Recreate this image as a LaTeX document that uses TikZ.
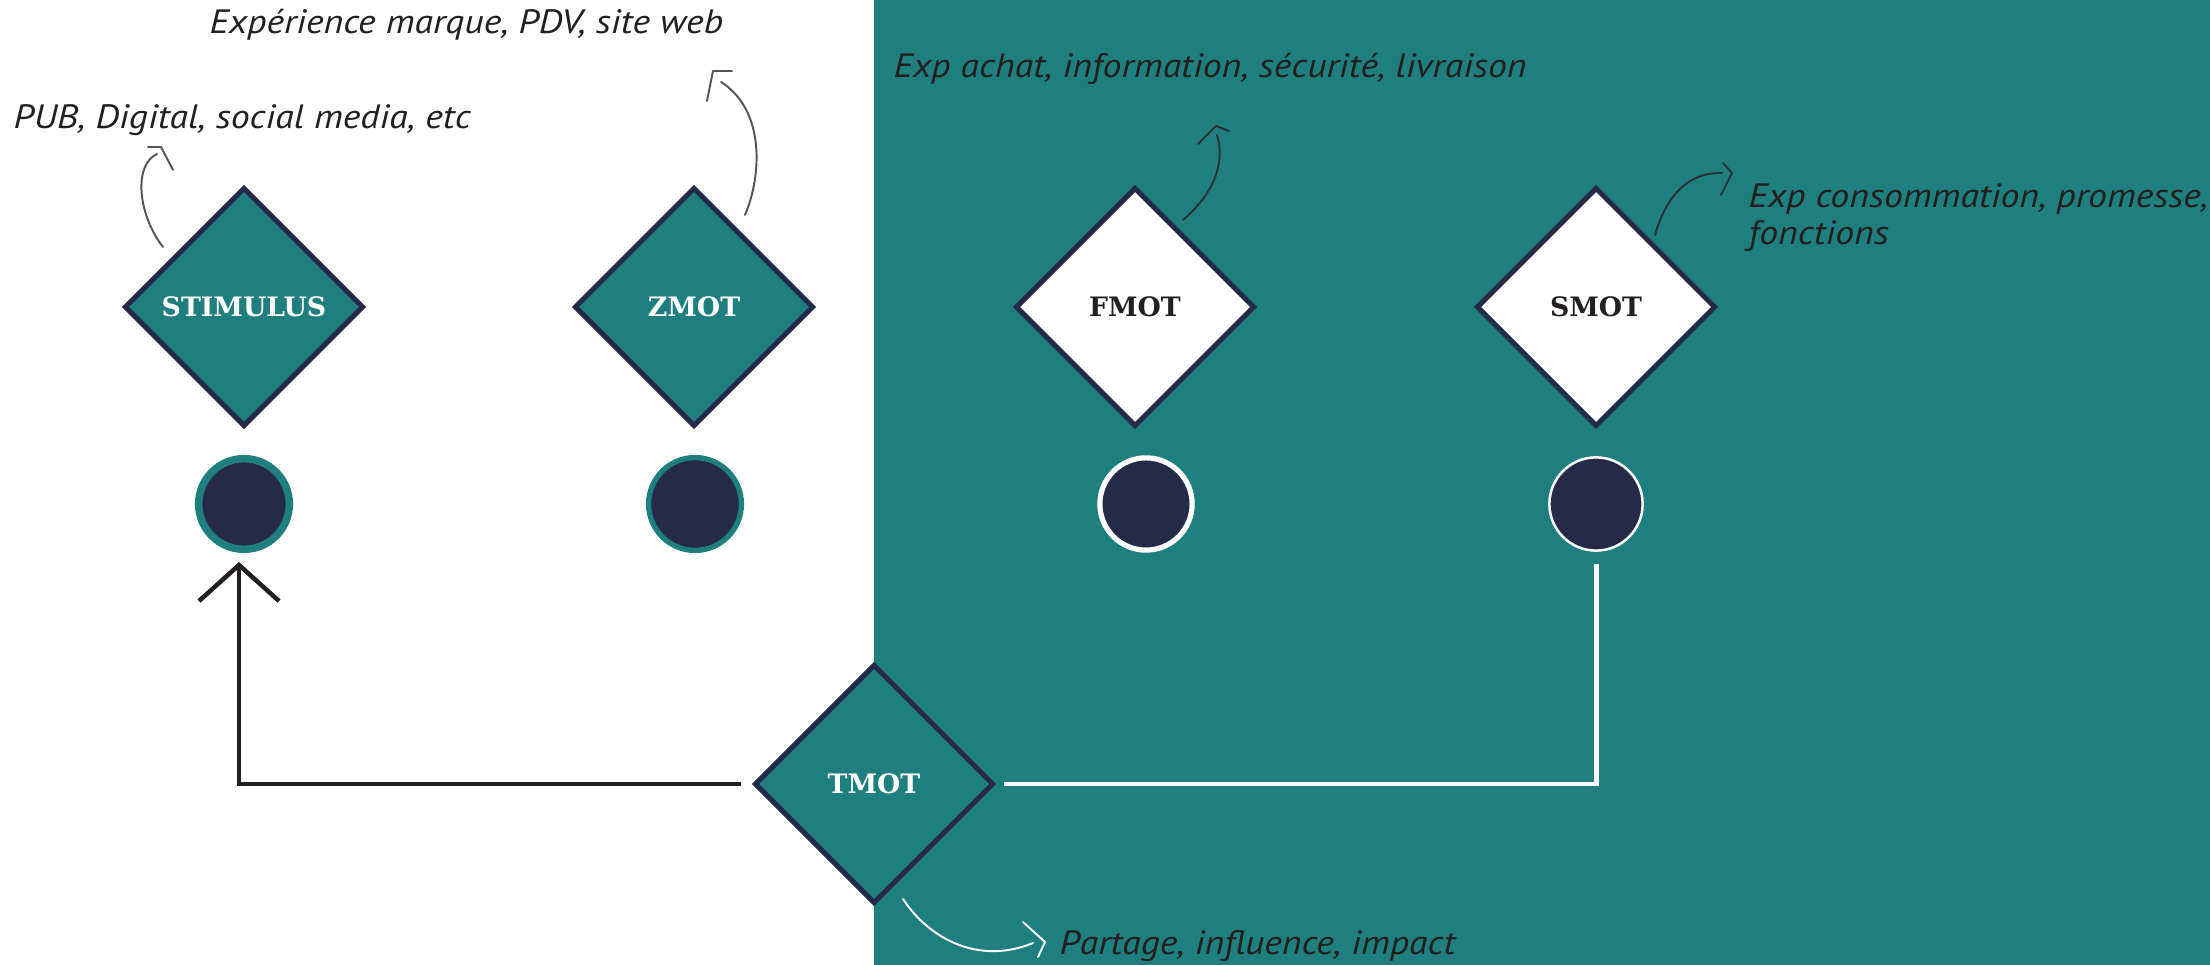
\documentclass[tikz,border=0pt]{standalone}
\usepackage{fontspec}
\usetikzlibrary{shapes.geometric,arrows.meta}
\newfontfamily\handfont[FakeStretch=1.12]{PT Sans}
\newfontfamily\tagfont{DejaVu Serif}
\definecolor{motteal}{HTML}{1E7F7E}
\definecolor{motnavy}{HTML}{252A48}
\definecolor{inkdark}{HTML}{231F20}
\definecolor{notegray}{HTML}{555555}
\definecolor{notedark}{HTML}{263436}
\begin{document}
\begin{tikzpicture}[x=0.01cm,y=-0.01cm,
  moment/.style={diamond, aspect=1, minimum width=2.39cm, minimum height=2.39cm,
    inner sep=0pt, line width=1.42pt, draw=motnavy,
    font=\tagfont\bfseries\fontsize{7.6}{9}\selectfont},
  dot/.style={circle, inner sep=0pt, fill=motnavy},
  note/.style={line width=0.55pt, line cap=round, line join=round},
  hand/.style={font=\handfont\itshape\fontsize{9.6}{11}\selectfont, text=inkdark,
    anchor=base west, inner sep=0pt}]
% canvas: white left part, teal right part
\useasboundingbox (0,0) rectangle (2210,965);
\fill[white] (0,0) rectangle (2210,965);
\fill[motteal] (874,0) rectangle (2210,965);

% moments of truth
\node[moment, fill=motteal, text=white]   (stim) at (244,307)  {STIMULUS};
\node[moment, fill=motteal, text=white]   (zmot) at (694,307)  {ZMOT};
\node[moment, fill=white, text=inkdark]   (fmot) at (1135,307) {FMOT};
\node[moment, fill=white, text=inkdark]   (smot) at (1596,307) {SMOT};
\node[moment, fill=motteal, text=white]   (tmot) at (874,784)  {TMOT};

% timeline dots
\node[dot, minimum size=0.906cm, draw=motteal, line width=2.13pt] (stimdot) at (244,504)  {};
\node[dot, minimum size=0.928cm, draw=motteal, line width=1.5pt]  (zmotdot) at (695,504)  {};
\node[dot, minimum size=0.922cm, draw=white, line width=1.48pt]   (fmotdot) at (1146,504) {};
\node[dot, minimum size=0.932cm, draw=white, line width=0.71pt]   (smotdot) at (1596,504) {};

% loop back from TMOT
\coordinate (uptip) at (239,562);
\draw[line width=1.28pt, draw=inkdark, -{Straight Barb[length=0.36cm, width=0.8cm]}]
  ([xshift=-0.11cm]tmot.west) -| (uptip);
\draw[line width=1.42pt, white]
  ([yshift=-0.12cm]smotdot.south) |- ([xshift=0.08cm]tmot.east);

% annotation arrows
\coordinate (s1) at (163,247); \coordinate (e1) at (157,154); \coordinate (t1) at (161,147);
\draw[note, notegray] (s1) .. controls (138,215) and (133,165) .. (e1);
\draw[note, notegray] (t1) ++(-13,0) -- (t1) -- ++(12,23);

\coordinate (s2) at (745,215); \coordinate (e2) at (721,82); \coordinate (t2) at (713,71);
\draw[note, notegray] (s2) .. controls (762,175) and (765,110) .. (e2);
\draw[note, notegray] (t2) ++(19,0) -- (t2) -- ++(-6,30);

\coordinate (s3) at (1183,220); \coordinate (e3) at (1217,135); \coordinate (t3) at (1216,126);
\draw[note, notedark] (s3) .. controls (1212,195) and (1226,165) .. (e3);
\draw[note, notedark] (t3) ++(-18,18) -- (t3) -- ++(13,5);

\coordinate (s4) at (1655,235); \coordinate (e4) at (1722,173); \coordinate (t4) at (1732,173);
\draw[note, notedark] (s4) .. controls (1665,200) and (1685,172) .. (e4);
\draw[note, notedark] (t4) ++(-9,-10) -- (t4) -- ++(-11,22);

\coordinate (s5) at (903,899); \coordinate (e5) at (1033,943); \coordinate (t5) at (1045,942);
\draw[note, white] (s5) .. controls (930,940) and (980,965) .. (e5);
\draw[note, white] (t5) ++(-22,-20) -- (t5) -- ++(-7,15);

% annotation texts
\node[hand] (n1) at (13,129)   {PUB, Digital, social media, etc};
\node[hand] (n2) at (209,34)   {Expérience marque, PDV, site web};
\node[hand] (n3) at (893,78)   {Exp achat, information, sécurité, livraison};
\node[hand] (n4) at (1748,208) {Exp consommation, promesse,};
\node[hand] (n4b) at (1748,245) {fonctions};
\node[hand] (n5) at (1059,955) {Partage, influence, impact};
\end{tikzpicture}
\end{document}
